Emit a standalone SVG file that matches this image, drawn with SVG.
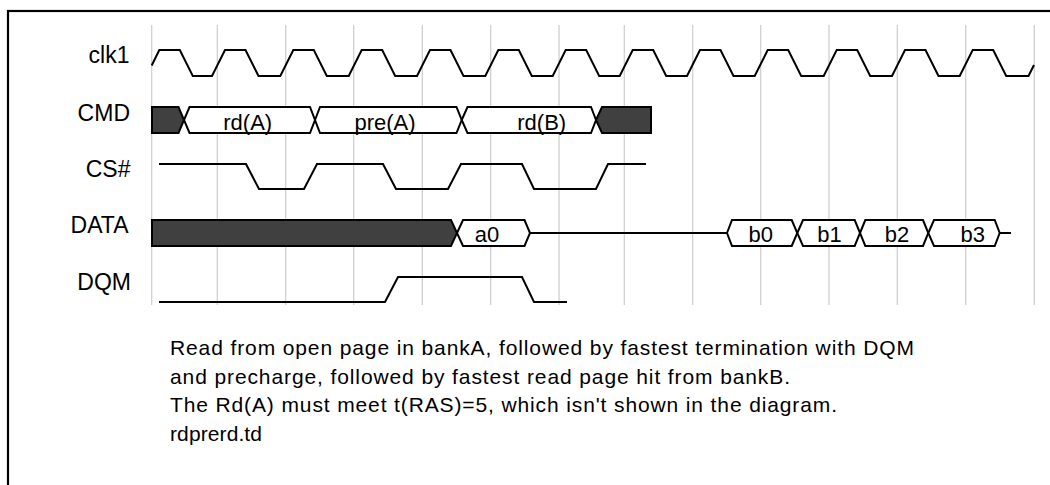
<svg xmlns="http://www.w3.org/2000/svg" width="1050" height="485" viewBox="0 0 1050 485">
<style>
.frame{fill:none;stroke:#000;stroke-width:2.2}
.grid{stroke:#cccccc;stroke-width:1.2}
.sig{fill:none;stroke:#000;stroke-width:2;stroke-linejoin:miter}
.bus{fill:#fff;stroke:#000;stroke-width:2}
.dark{fill:#404040;stroke:#000;stroke-width:2}
.lbl{font-family:"Liberation Sans",Arial,sans-serif;font-size:23px;fill:#000;text-anchor:end}
.bl{font-family:"Liberation Sans",Arial,sans-serif;font-size:22px;fill:#000;text-anchor:middle}
.note{font-family:"Liberation Sans",Arial,sans-serif;font-size:21px;fill:#000}
</style>
<rect class="frame" x="8" y="11" width="1100" height="500"/>
<g id="grid">
<line class="grid" x1="151.7" y1="25" x2="151.7" y2="305"/>
<line class="grid" x1="217.3" y1="25" x2="217.3" y2="305"/>
<line class="grid" x1="285.7" y1="25" x2="285.7" y2="305"/>
<line class="grid" x1="353.7" y1="25" x2="353.7" y2="305"/>
<line class="grid" x1="422.3" y1="25" x2="422.3" y2="305"/>
<line class="grid" x1="490.7" y1="25" x2="490.7" y2="305"/>
<line class="grid" x1="559" y1="25" x2="559" y2="305"/>
<line class="grid" x1="624.3" y1="25" x2="624.3" y2="305"/>
<line class="grid" x1="692.7" y1="25" x2="692.7" y2="305"/>
<line class="grid" x1="760.7" y1="25" x2="760.7" y2="305"/>
<line class="grid" x1="829" y1="25" x2="829" y2="305"/>
<line class="grid" x1="897.3" y1="25" x2="897.3" y2="305"/>
<line class="grid" x1="965.7" y1="25" x2="965.7" y2="305"/>
<line class="grid" x1="1034.3" y1="25" x2="1034.3" y2="305"/>
</g>
<g id="clk1">
<text class="lbl" x="129.5" y="63.3">clk1</text>
<polyline class="sig" points="151.7,65.5 159.3,50 179.8,50 192.8,76 212,76 225,50 245.5,50 258.5,76 280.3,76 293.3,50 313.8,50 326.8,76 348.7,76 361.7,50 382.2,50 395.2,76 417,76 430,50 450.5,50 463.5,76 485.3,76 498.3,50 518.8,50 531.8,76 552.7,76 565.7,50 586.2,50 599.2,76 619.7,76 632.7,50 653.2,50 666.2,76 687,76 700,50 720.5,50 733.5,76 754.7,76 767.7,50 788.2,50 801.2,76 823.7,76 836.7,50 857.2,50 870.2,76 892,76 905,50 925.5,50 938.5,76 959.7,76 972.7,50 993.2,50 1006.2,76 1028.5,76 1034,65"/>
</g>
<g id="cmd">
<text class="lbl" x="130" y="121">CMD</text>
<polygon class="dark" points="152,107 178.5,107 184,120 178.5,133 152,133"/>
<polygon class="bus" points="184,120 189.5,107 310,107 315,120 310,133 189.5,133"/>
<polygon class="bus" points="315,120 320,107 456.5,107 461.7,120 456.5,133 320,133"/>
<polygon class="bus" points="461.7,120 467.5,107 591,107 596,120 591,133 467.5,133"/>
<polygon class="dark" points="596,120 602,107 651,107 651,133 602,133"/>
<text class="bl" x="247.7" y="129.5">rd(A)</text>
<text class="bl" x="385" y="129.5">pre(A)</text>
<text class="bl" x="541.7" y="129.5">rd(B)</text>
</g>
<g id="cs">
<text class="lbl" x="130.5" y="176.7">CS#</text>
<polyline class="sig" points="159,164 246,164 259,189 304,189 317,164 383,164 396,189 448,189 461,164 522,164 534,189 596,189 608,164 646,164"/>
</g>
<g id="data">
<text class="lbl" x="128.5" y="233.3">DATA</text>
<polygon class="dark" points="152,220 451,220 457,233 451,246 152,246"/>
<polygon class="bus" points="457,233 463,220 524.5,220 530,233 524.5,246 463,246"/>
<line class="sig" x1="530" y1="233" x2="727" y2="233"/>
<polygon class="bus" points="727,233 732,220 791.7,220 797.3,233 791.7,246 732,246"/>
<polygon class="bus" points="797.3,233 803,220 854.7,220 860,233 854.7,246 803,246"/>
<polygon class="bus" points="860,233 865.3,220 923,220 928.3,233 923,246 865.3,246"/>
<polygon class="bus" points="928.3,233 934,220 994.7,220 999.7,233 994.7,246 934,246"/>
<line class="sig" x1="999.7" y1="233" x2="1011" y2="233"/>
<text class="bl" x="487" y="241.5">a0</text>
<text class="bl" x="760.8" y="241.5">b0</text>
<text class="bl" x="829.5" y="241.5">b1</text>
<text class="bl" x="897" y="241.5">b2</text>
<text class="bl" x="972.8" y="241.5">b3</text>
</g>
<g id="dqm">
<text class="lbl" x="131" y="290">DQM</text>
<polyline class="sig" points="159,302 385,302 398,277 522,277 534,302 567,302"/>
</g>
<g id="notes">
<text class="note" x="170" y="355" textLength="744">Read from open page in bankA, followed by fastest termination with DQM</text>
<text class="note" x="170" y="383.5" textLength="620">and precharge, followed by fastest read page hit from bankB.</text>
<text class="note" x="170" y="412" textLength="667">The Rd(A) must meet t(RAS)=5, which isn't shown in the diagram.</text>
<text class="note" x="170" y="440.5" textLength="92">rdprerd.td</text>
</g>
</svg>
